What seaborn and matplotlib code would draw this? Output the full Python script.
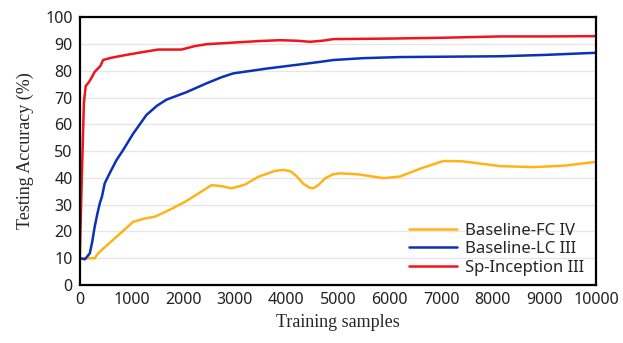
import numpy as np
import pandas as pd
import seaborn as sns
import matplotlib.pyplot as plt

# values
fc_x = [0, 150, 290, 340, 420, 700, 1034, 1250, 1453, 1700, 2035, 2300, 2552, 2750, 2938, 3200, 3456, 3779, 3940, 4080, 4200, 4330, 4450, 4530, 4620, 4750, 4900, 5039, 5400, 5880, 6200, 6600, 7040, 7400, 8140, 8780, 9400, 10000]
fc_y = [10, 10, 10, 11.5, 13, 17.8, 23.6, 24.8, 25.5, 27.7, 31, 34.2, 37.3, 36.9, 36.1, 37.5, 40.4, 42.6, 43, 42.5, 40.6, 37.8, 36.3, 36.2, 37.3, 39.8, 41.3, 41.7, 41.3, 39.9, 40.5, 43.5, 46.3, 46.2, 44.4, 44, 44.6, 46]

lc_x = [0, 100, 194, 240, 290, 340, 388, 430, 484, 600, 710, 840, 1034, 1292, 1500, 1680, 2067, 2455, 2750, 2970, 3618, 4200, 4651, 4910, 5500, 6200, 8140, 9000, 10000]
lc_y = [10, 9.6, 11.8, 16, 21.8, 26.5, 30.5, 33, 38, 42.5, 46.6, 50.4, 56.5, 63.5, 67, 69.2, 72, 75.3, 77.6, 79, 80.8, 82.2, 83.3, 84, 84.7, 85.1, 85.4, 85.9, 86.7]

sp_x = [0, 40, 80, 116, 180, 240, 290, 340, 400, 452, 600, 872, 1200, 1518, 1970, 2229, 2455, 2970, 3500, 3876, 4200, 4457, 4700, 4910, 6000, 7000, 8140, 9000, 10000]
sp_y = [10, 40, 68, 74.3, 75.8, 77.8, 79.6, 80.6, 81.8, 84, 84.8, 85.8, 86.9, 87.9, 87.9, 89.2, 89.9, 90.5, 91.1, 91.4, 91.2, 90.8, 91.2, 91.8, 92, 92.3, 92.8, 92.8, 92.9]

names = ["Baseline-FC IV", "Baseline-LC III", "Sp-Inception III"]
colors = ["#FFB319", "#0A31B8", "#F0141E"]

df = pd.concat([
    pd.DataFrame({"x": fc_x, "y": fc_y, "model": names[0]}),
    pd.DataFrame({"x": lc_x, "y": lc_y, "model": names[1]}),
    pd.DataFrame({"x": sp_x, "y": sp_y, "model": names[2]}),
])

sns.set_style("white")
plt.rcParams['font.family'] = ['Noto Sans', 'DejaVu Sans']

fig = plt.figure(figsize=(6.23, 3.43), dpi=100)
ax = fig.add_axes([0.128, 0.169, 0.829, 0.781])
sns.lineplot(data=df, x="x", y="y", hue="model", palette=colors,
             hue_order=names, linewidth=1.8, ax=ax, sort=False)

ax.set_xlim(0, 10000)
ax.set_ylim(0, 100)
ax.set_xticks(np.arange(0, 10001, 1000))
ax.set_yticks(np.arange(0, 101, 10))
ax.yaxis.grid(True, color="#e6e6e6", linewidth=1)
ax.set_axisbelow(True)
for s in ax.spines.values():
    s.set_color("black")
    s.set_linewidth(1.6)
ax.tick_params(axis="both", length=0, labelsize=11.5, colors="#222222", pad=5)

ax.set_xlabel("Training samples", family="Liberation Serif", fontsize=13, labelpad=4)
ax.set_ylabel("Testing Accuracy (%)", family="Liberation Serif", fontsize=13, labelpad=8)

leg = ax.legend(loc="lower right", bbox_to_anchor=(1.0, -0.008), frameon=False,
                fontsize=12, handlelength=2.9, handletextpad=0.5,
                labelspacing=0.15, borderaxespad=0.3)

fig.savefig("out.png", dpi=100)
